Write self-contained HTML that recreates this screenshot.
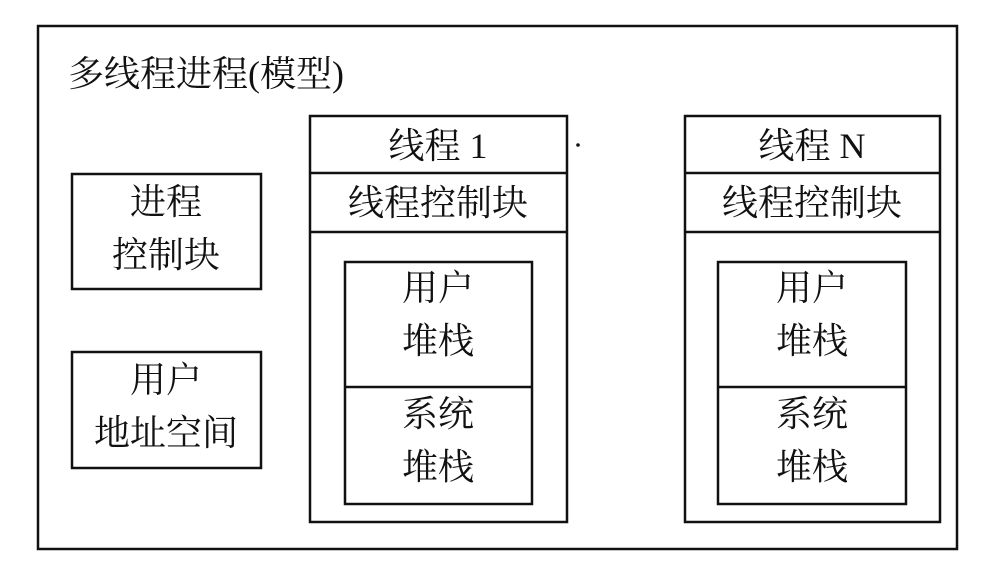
<!DOCTYPE html>
<html><head><meta charset="utf-8"><style>
html,body{margin:0;padding:0;background:#fff;}
svg{display:block}
text{font-family:"Liberation Serif","Noto Serif CJK SC",serif;font-size:36px;fill:#111;text-anchor:middle;dominant-baseline:central}
</style></head><body>
<svg width="1005" height="573" viewBox="0 0 1005 573" xmlns="http://www.w3.org/2000/svg">
<g fill="none" stroke="#111" stroke-width="2.5">
<rect x="38" y="26" width="919" height="523"/>
<rect x="72" y="174" width="189" height="115"/>
<rect x="72" y="352" width="189" height="116"/>
<rect x="310" y="116" width="257" height="406"/>
<line x1="310" y1="173" x2="567" y2="173"/>
<line x1="310" y1="232" x2="567" y2="232"/>
<rect x="345" y="262" width="187" height="242"/>
<line x1="345" y1="387" x2="532" y2="387"/>
<rect x="685" y="116" width="255" height="406"/>
<line x1="685" y1="173" x2="940" y2="173"/>
<line x1="685" y1="232" x2="940" y2="232"/>
<rect x="718" y="262" width="188" height="242"/>
<line x1="718" y1="387" x2="906" y2="387"/>
</g>
<circle cx="578" cy="145" r="1.8" fill="#111"/>
<text x="68" y="74" style="text-anchor:start">多线程进程(模型)</text>
<text x="166" y="202">进程</text>
<text x="166" y="255">控制块</text>
<text x="166" y="380">用户</text>
<text x="166" y="433">地址空间</text>
<text x="438" y="146">线程 1</text>
<text x="438" y="203">线程控制块</text>
<text x="438" y="288">用户</text>
<text x="438" y="341">堆栈</text>
<text x="438" y="414">系统</text>
<text x="438" y="467">堆栈</text>
<text x="812" y="146">线程 N</text>
<text x="812" y="203">线程控制块</text>
<text x="812" y="288">用户</text>
<text x="812" y="341">堆栈</text>
<text x="812" y="414">系统</text>
<text x="812" y="467">堆栈</text>
</svg>
</body></html>
